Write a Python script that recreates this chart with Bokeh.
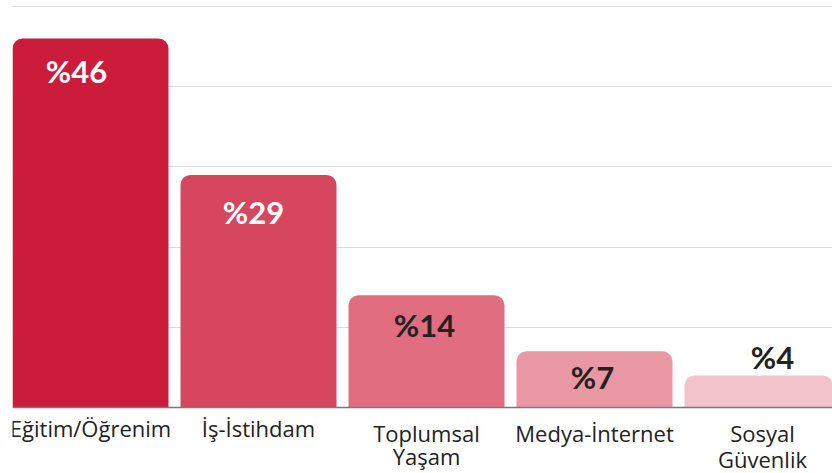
import numpy as np
from bokeh.plotting import figure
from bokeh.models import Range1d, Span, FixedTicker, ColumnDataSource
from bokeh.core.properties import value
from bokeh.embed import file_html
from bokeh.resources import INLINE

# ---- data ----
categories = ["Eğitim/Öğrenim", "İş-İstihdam", "Toplumsal\nYaşam", "Medya-İnternet", "Sosyal\nGüvenlik"]
percentages = [46, 29, 14, 7, 4]
value_labels = ["%46", "%29", "%14", "%7", "%4"]
grid_ticks = [10, 20, 30, 40, 50]

# ---- styles ----
bar_colors = ["#CC1C3C", "#D6465F", "#E06D80", "#E997A3", "#F3C3CB"]
value_colors = ["#FFFFFF", "#FFFFFF", "#222222", "#222222", "#222222"]
value_dy = [32, 37, 30, 26, -18]
value_dx = [-14, -5, -2, -2, 10]
line1_dy = [21, 21, 26, 26, 26]
line2_dy = [49, 49, 49, 52, 52]

W, H = 832, 473
left_border = 12
band_px = 168
bar_w = 156 / 168

xs = np.arange(len(categories)) + 0.5
x0 = 0.5 - bar_w / 2
frame_w = W - left_border
x_end = x0 + frame_w / band_px

line1 = [c.split("\n")[0] for c in categories]
line2 = [c.split("\n")[1] if "\n" in c else "" for c in categories]

p = figure(width=W, height=H, output_backend="svg", toolbar_location=None,
           x_range=Range1d(x0, x_end), y_range=Range1d(-8.23, 50.75),
           min_border_left=left_border, min_border_right=0,
           min_border_top=0, min_border_bottom=0)
p.axis.visible = False
p.xgrid.visible = False
p.ygrid.ticker = FixedTicker(ticks=grid_ticks)
p.ygrid.grid_line_color = "#D9D9D9"
p.ygrid.grid_line_width = 1.2
p.outline_line_color = None
p.background_fill_color = "white"
p.border_fill_color = "white"

src = ColumnDataSource(dict(x=xs, top=percentages, color=bar_colors, lab=value_labels,
                            lc=value_colors, dy=value_dy, dx=value_dx,
                            l1=line1, l2=line2, d1=line1_dy, d2=line2_dy,
                            zero=[0] * len(categories)))

p.add_layout(Span(location=0, dimension="width", line_color="#7A7A7A", line_width=1.5))

p.vbar(x="x", top="top", bottom=0, width=bar_w, fill_color="color", line_color=None,
       border_radius=(10, 10, 0, 0), source=src)

p.text(x="x", y="top", text="lab", text_color="lc", x_offset="dx", y_offset="dy",
       text_align="center", text_baseline="middle", text_font=value("Lato"),
       text_font_style="bold", text_font_size="31px", source=src)

for col, dcol in (("l1", "d1"), ("l2", "d2")):
    p.text(x="x", y="zero", text=col, text_color="#222222", y_offset=dcol,
           text_align="center", text_baseline="middle", text_font=value("Open Sans"),
           text_font_size="22px", source=src)

open("out.html", "w").write(file_html(p, INLINE))
